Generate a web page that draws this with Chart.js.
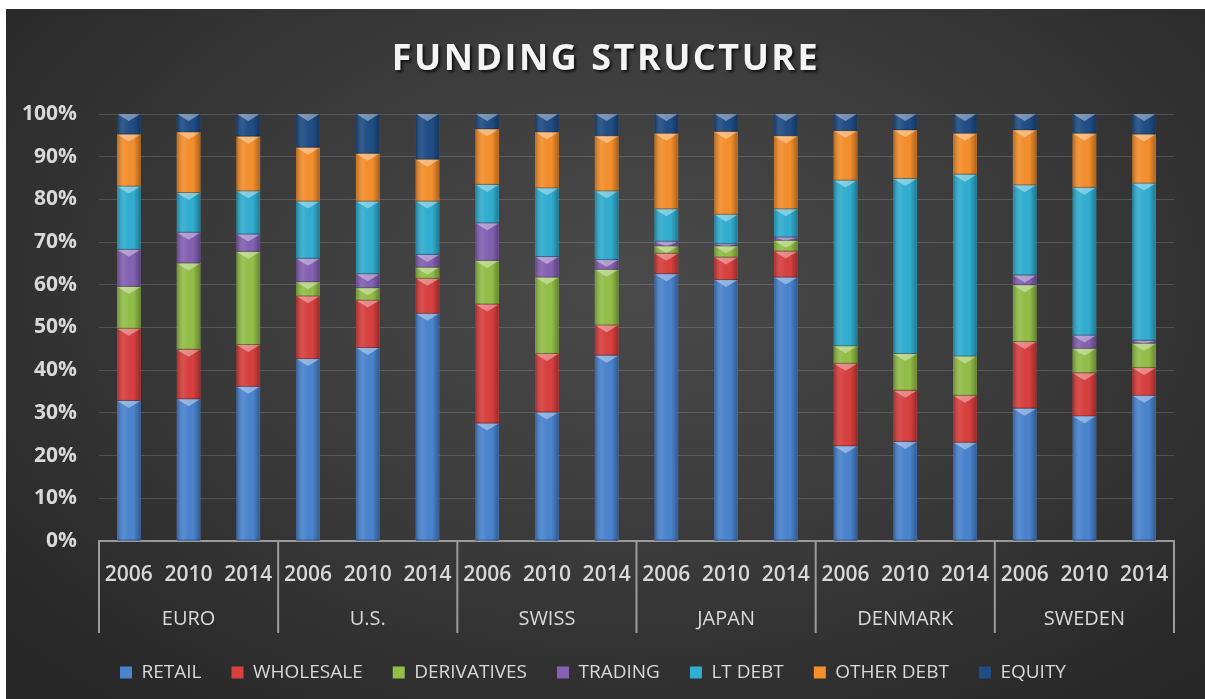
<!DOCTYPE html>
<html>
<head>
<meta charset="utf-8">
<title>Funding Structure</title>
<script src="https://cdn.jsdelivr.net/npm/chart.js@4"></script>
<style>
  html, body { margin: 0; background: #fff; }
  #wrap {
    position: absolute; left: 6px; top: 9px; width: 1199px; height: 690px;
    background: radial-gradient(ellipse 68% 78% at 52% 40%, #4a4a4a 0%, #3c3c3c 45%, #272727 100%);
  }
  canvas { display: block; }
</style>
</head>
<body>
<div id="wrap"><canvas id="chart"></canvas></div>
<script>
const titleText = 'FUNDING STRUCTURE';
const regions = ['EURO', 'U.S.', 'SWISS', 'JAPAN', 'DENMARK', 'SWEDEN'];
const years = ['2006', '2010', '2014'];

// share of total funding (%), one value per region/year, in the order above
const retail      = [32.8, 33.2, 36.1, 42.6, 45.2, 53.2, 27.5, 30.1, 43.4, 62.5, 61.1, 61.7, 22.2, 23.2, 23.0, 31.0, 29.2, 34.0];
const wholesale   = [16.9, 11.6,  9.8, 14.7, 11.1,  8.2, 27.9, 13.7,  7.1,  4.8,  5.3,  6.1, 19.3, 12.0, 11.0, 15.6, 10.1,  6.5];
const derivatives = [ 9.8, 20.2, 21.8,  3.3,  2.9,  2.6, 10.2, 17.9, 13.0,  1.7,  2.6,  2.5,  4.1,  8.6,  9.2, 13.3,  5.7,  5.7];
const trading     = [ 8.7,  7.2,  4.1,  5.5,  3.3,  3.0,  8.8,  4.8,  2.3,  1.1,  0.5,  0.8,  0.0,  0.0,  0.0,  2.3,  3.1,  0.7];
const ltDebt      = [14.8,  9.3, 10.1, 13.4, 17.0, 12.5,  9.0, 16.1, 16.1,  7.6,  6.9,  6.6, 38.8, 41.0, 42.6, 21.1, 34.6, 36.8];
const otherDebt   = [12.2, 14.2, 12.8, 12.6, 11.2,  9.8, 13.0, 13.1, 12.9, 17.7, 19.4, 17.1, 11.6, 11.4,  9.6, 12.9, 12.7, 11.5];
const equity      = [ 4.8,  4.3,  5.3,  7.9,  9.3, 10.7,  3.6,  4.3,  5.2,  4.6,  4.2,  5.2,  4.0,  3.8,  4.6,  3.8,  4.6,  4.8];

const yTicks = [0, 10, 20, 30, 40, 50, 60, 70, 80, 90, 100];

const series = [
  ['RETAIL', retail, '#4a84cf'],
  ['WHOLESALE', wholesale, '#d8403e'],
  ['DERIVATIVES', derivatives, '#93bf48'],
  ['TRADING', trading, '#8461b3'],
  ['LT DEBT', ltDebt, '#31aed1'],
  ['OTHER DEBT', otherDebt, '#f58f2c'],
  ['EQUITY', equity, '#1f4d86']
];

const labels = regions.flatMap(() => years);
const textColor = '#d9d9d9';
const font = 'Open Sans';

// light facet on the top of every segment plus a soft side shading
const bevel = {
  id: 'bevel',
  afterDatasetsDraw(chart) {
    const ctx = chart.ctx;
    ctx.save();
    chart.data.datasets.forEach((ds, i) => {
      chart.getDatasetMeta(i).data.forEach(bar => {
        const top = Math.min(bar.y, bar.base);
        const h = Math.abs(bar.base - bar.y);
        if (h < 1) return;
        const l = bar.x - bar.width / 2, w = bar.width;
        const g = ctx.createLinearGradient(l, 0, l + w, 0);
        g.addColorStop(0, 'rgba(0,0,0,0.25)');
        g.addColorStop(0.3, 'rgba(255,255,255,0.07)');
        g.addColorStop(0.7, 'rgba(0,0,0,0)');
        g.addColorStop(1, 'rgba(0,0,0,0.3)');
        ctx.fillStyle = g;
        ctx.fillRect(l, top, w, h);
        const t = Math.min(7, h);
        ctx.beginPath();
        ctx.moveTo(l, top);
        ctx.lineTo(l + w, top);
        ctx.lineTo(l + w / 2, top + t);
        ctx.closePath();
        ctx.fillStyle = 'rgba(255,255,255,0.38)';
        ctx.fill();
        ctx.fillStyle = 'rgba(0,0,0,0.3)';
        ctx.fillRect(l, top + h - 1, w, 1);
      });
    });
    ctx.restore();
  }
};

// vertical dividers between region groups on the category axis
const dividers = {
  id: 'dividers',
  afterDraw(chart) {
    const x = chart.scales.x, x2 = chart.scales.x2, ctx = chart.ctx;
    const per = years.length;
    ctx.save();
    ctx.strokeStyle = '#9c9c9c';
    ctx.lineWidth = 2;
    for (let i = 0; i <= regions.length; i++) {
      let px;
      if (i === 0) px = x.left;
      else if (i === regions.length) px = x.right;
      else px = (x.getPixelForValue(i * per - 1) + x.getPixelForValue(i * per)) / 2;
      ctx.beginPath();
      ctx.moveTo(px, chart.chartArea.bottom);
      ctx.lineTo(px, x2.bottom);
      ctx.stroke();
    }
    ctx.restore();
  }
};

const headline = {
  id: 'headline',
  afterDraw(chart) {
    const ctx = chart.ctx;
    ctx.save();
    ctx.font = `bold 36px "${font}"`;
    ctx.letterSpacing = '2.5px';
    ctx.textAlign = 'center';
    ctx.textBaseline = 'middle';
    ctx.shadowColor = 'rgba(0,0,0,0.75)';
    ctx.shadowOffsetX = 2;
    ctx.shadowOffsetY = 2;
    ctx.shadowBlur = 3;
    ctx.fillStyle = '#f4f4f4';
    ctx.fillText(titleText, 600, 51);
    ctx.restore();
  }
};

new Chart(document.getElementById('chart'), {
  type: 'bar',
  data: {
    labels,
    datasets: series.map(([name, values, color]) => ({
      label: name,
      data: values,
      backgroundColor: color,
      borderWidth: 0,
      barThickness: 23
    }))
  },
  options: {
    responsive: true,
    maintainAspectRatio: false,
    animation: false,
    layout: { padding: { left: 6, right: 31, top: 105, bottom: 7 } },
    plugins: {
      title: { display: false },
      tooltip: { enabled: false },
      legend: {
        position: 'bottom',
        labels: {
          color: textColor,
          boxWidth: 12,
          boxHeight: 12,
          padding: 30,
          font: { family: font, size: 19 }
        }
      }
    },
    scales: {
      x: {
        stacked: true,
        afterFit(scale) { scale.height = 46; },
        grid: { display: false, drawTicks: false },
        border: { color: '#9a9a9a', width: 2 },
        ticks: {
          color: textColor,
          autoSkip: false,
          maxRotation: 0,
          padding: 21,
          font: { family: font, size: 21, weight: '600' }
        }
      },
      x2: {
        type: 'category',
        labels: regions,
        position: 'bottom',
        weight: 1,
        offset: true,
        afterFit(scale) { scale.height = 46; },
        grid: { display: false, drawTicks: false },
        border: { display: false },
        ticks: {
          color: textColor,
          padding: 20,
          maxRotation: 0,
          font: { family: font, size: 20 }
        }
      },
      y: {
        stacked: true,
        min: 0,
        max: 100,
        afterFit(scale) { scale.width = 87; },
        afterBuildTicks(scale) { scale.ticks = yTicks.map(v => ({ value: v })); },
        grid: { color: 'rgba(255,255,255,0.15)', drawTicks: false },
        border: { display: false },
        ticks: {
          color: textColor,
          padding: 22,
          callback: v => v + '%',
          font: { family: font, size: 21, weight: 'bold' }
        }
      }
    }
  },
  plugins: [bevel, dividers, headline]
});
</script>
</body>
</html>
